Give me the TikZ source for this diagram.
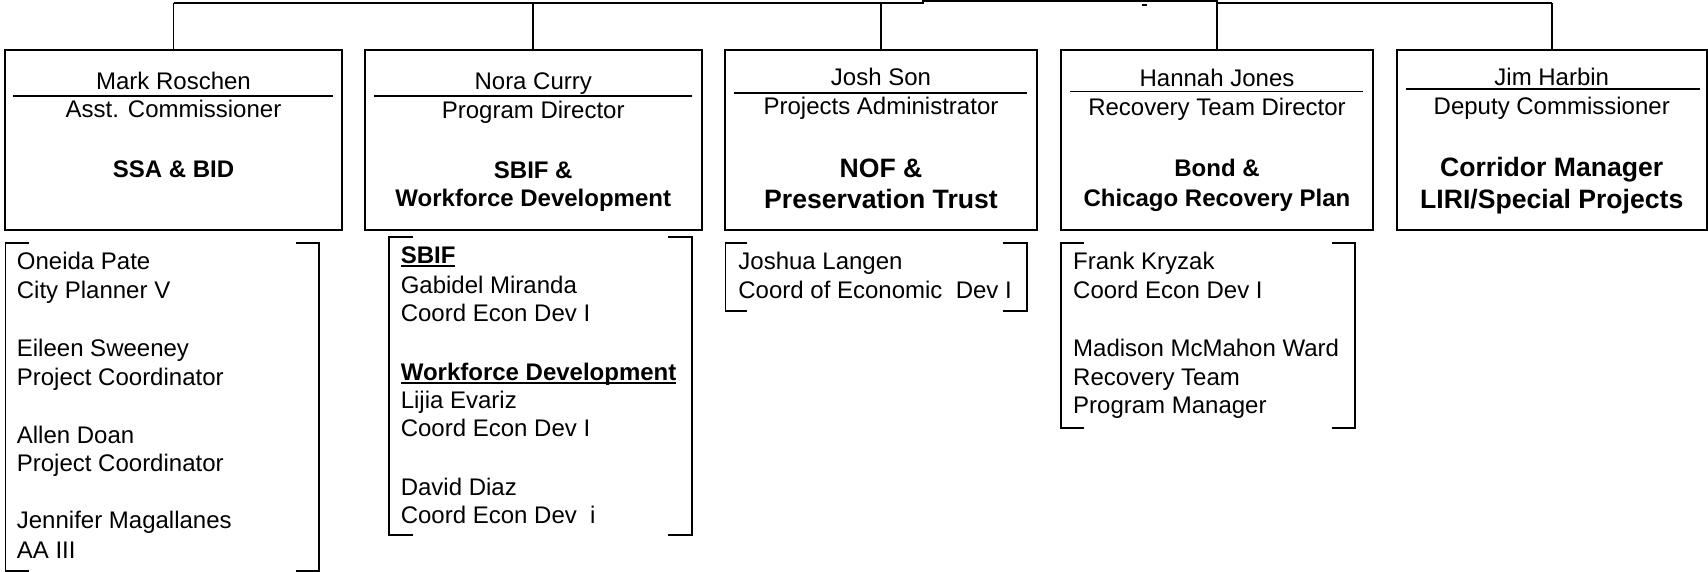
\documentclass[tikz,border=0pt]{standalone}
\usepackage{fontspec}
\setmainfont{Liberation Sans}
\newlength\myulw
\newcommand\myul[1]{\settowidth{\myulw}{#1}\rlap{\rule[-1.9pt]{\myulw}{0.9pt}}#1}
\begin{document}
\begin{tikzpicture}[x=0.5pt,y=-0.5pt,
  box/.style={draw,line width=1pt,minimum height=90pt,inner sep=0pt},
  conn/.style={line width=0.8pt},
  rule/.style={line width=0.8pt},
  brk/.style={line width=0.9pt},
  hd/.style={anchor=base,inner sep=0pt,font=\fontsize{12}{14}\selectfont},
  bd/.style={anchor=base,inner sep=0pt,font=\fontsize{12}{14}\selectfont\bfseries},
  bdl/.style={anchor=base,inner sep=0pt,font=\fontsize{13.3}{15}\selectfont\bfseries},
  li/.style={anchor=base west,inner sep=0pt,font=\fontsize{12}{14}\selectfont},
  lib/.style={anchor=base west,inner sep=0pt,font=\fontsize{12}{14}\selectfont\bfseries},
]
\useasboundingbox (0,0) rectangle (1708,572);

% boxes
\node[box,minimum width=168.5pt]  (b1) at (173.5,140.5) {};
\node[box,minimum width=168.25pt] (b2) at (533.25,140.5) {};
\node[box,minimum width=156pt]    (b3) at (881,140.5) {};
\node[box,minimum width=156pt]    (b4) at (1217,140.5) {};
\node[box,minimum width=154.75pt] (b5) at (1551.75,140.5) {};

% top connectors
\coordinate (t1) at (173.5,3);
\coordinate (t2) at (533.25,3);
\coordinate (t3) at (881,3);
\coordinate (s1) at (923,3);
\coordinate (s2) at (923,1);
\coordinate (t4) at (1217,1);
\coordinate (s3) at (1217,3);
\coordinate (t5) at (1551.75,3);
\draw[conn] (t1) -- (s1) -- (s2) -- (t4) -- (s3) -- (t5);
\draw[conn] (t1) -- (b1.north);
\draw[conn] (t2) -- (b2.north);
\draw[conn] (t3) -- (b3.north);
\draw[conn] (t4) -- (b4.north);
\draw[conn] (t5) -- (b5.north);
\fill (1141.7,4) rectangle (1147.3,6);

% box 1
\node[hd] (n1) at (173.5,90) {Mark Roschen};
\draw[rule] (13.4,96) -- (332.6,96);
\node[hd] (r1) at (173.5,118) {Asst. Commissioner};
\node[bd] (u1) at (173.5,178) {SSA \& BID};

% box 2
\node[hd] (n2) at (533.25,90) {Nora Curry};
\draw[rule] (374,96) -- (692,96);
\node[hd] (r2) at (533.25,118.3) {Program Director};
\node[bd] (u2a) at (533.25,178.3) {SBIF \&};
\node[bd] (u2b) at (533.25,206.7) {Workforce Development};

% box 3
\node[hd] (n3) at (881,85.7) {Josh Son};
\draw[rule] (734,93.3) -- (1027,93.3);
\node[hd] (r3) at (881,115) {Projects Administrator};
\node[bdl] (u3a) at (881,178) {NOF \&};
\node[bdl] (u3b) at (881,209) {Preservation Trust};

% box 4
\node[hd] (n4) at (1217,86.7) {Hannah Jones};
\draw[rule] (1070,91.7) -- (1363,91.7);
\node[hd] (r4) at (1217,116) {Recovery Team Director};
\node[bd] (u4a) at (1217,176.7) {Bond \&};
\node[bd] (u4b) at (1217,206.7) {Chicago Recovery Plan};

% box 5
\node[hd] (n5) at (1551.75,85.7) {Jim Harbin};
\draw[rule] (1406,89) -- (1700,89);
\node[hd] (r5) at (1551.75,115) {Deputy Commissioner};
\node[bdl] (u5a) at (1551.75,176.7) {Corridor Manager};
\node[bdl] (u5b) at (1551.75,208.3) {LIRI/Special Projects};

% list 1
\draw[brk] (29,243.3) -- (5.4,243.3) -- (5.4,570.7) -- (29,570.7);
\draw[brk] (295.5,243.3) -- (319,243.3) -- (319,570.7) -- (295.5,570.7);
\node[li] (a1) at (16.5,270) {Oneida Pate};
\node[li] (a2) at (16.5,298.5) {City Planner V};
\node[li] (a3) at (16.5,356.7) {Eileen Sweeney};
\node[li] (a4) at (16.5,385) {Project Coordinator};
\node[li] (a5) at (16.5,443.3) {Allen Doan};
\node[li] (a6) at (16.5,471.7) {Project Coordinator};
\node[li] (a7) at (16.5,528.3) {Jennifer Magallanes};
\node[li] (a8) at (16.5,558.3) {AA III};

% list 2
\draw[brk] (413,237.3) -- (389,237.3) -- (389,535) -- (413,535);
\draw[brk] (668,237.3) -- (692,237.3) -- (692,535) -- (668,535);
\node[lib] (c1) at (400.4,263.3) {\myul{SBIF}};
\node[li] (c2) at (400.4,293.3) {Gabidel Miranda};
\node[li] (c3) at (400.4,321.7) {Coord Econ Dev I};
\node[lib] (c4) at (400.4,380) {\myul{Workforce Development}};
\node[li] (c5) at (400.4,408.3) {Lijia Evariz};
\node[li] (c6) at (400.4,436.7) {Coord Econ Dev I};
\node[li] (c7) at (400.4,495) {David Diaz};
\node[li] (c8) at (400.4,523.3) {Coord Econ Dev\ \ i};

% list 3
\draw[brk] (747,242.7) -- (725.4,242.7) -- (725.4,310.7) -- (747,310.7);
\draw[brk] (1002.7,242.7) -- (1026.8,242.7) -- (1026.8,310.7) -- (1002.7,310.7);
\node[li] (d1) at (738,270) {Joshua Langen};
\node[li] (d2) at (738,298.3) {Coord of Economic\ \ Dev I};

% list 4
\draw[brk] (1084,242.7) -- (1060.7,242.7) -- (1060.7,428.3) -- (1084,428.3);
\draw[brk] (1331.7,242.7) -- (1354.9,242.7) -- (1354.9,428.3) -- (1331.7,428.3);
\node[li] (e1) at (1072.8,270) {Frank Kryzak};
\node[li] (e2) at (1072.8,298.3) {Coord Econ Dev I};
\node[li] (e3) at (1072.8,356.7) {Madison McMahon Ward};
\node[li] (e4) at (1072.8,385) {Recovery Team};
\node[li] (e5) at (1072.8,413.3) {Program Manager};
\end{tikzpicture}
\end{document}
